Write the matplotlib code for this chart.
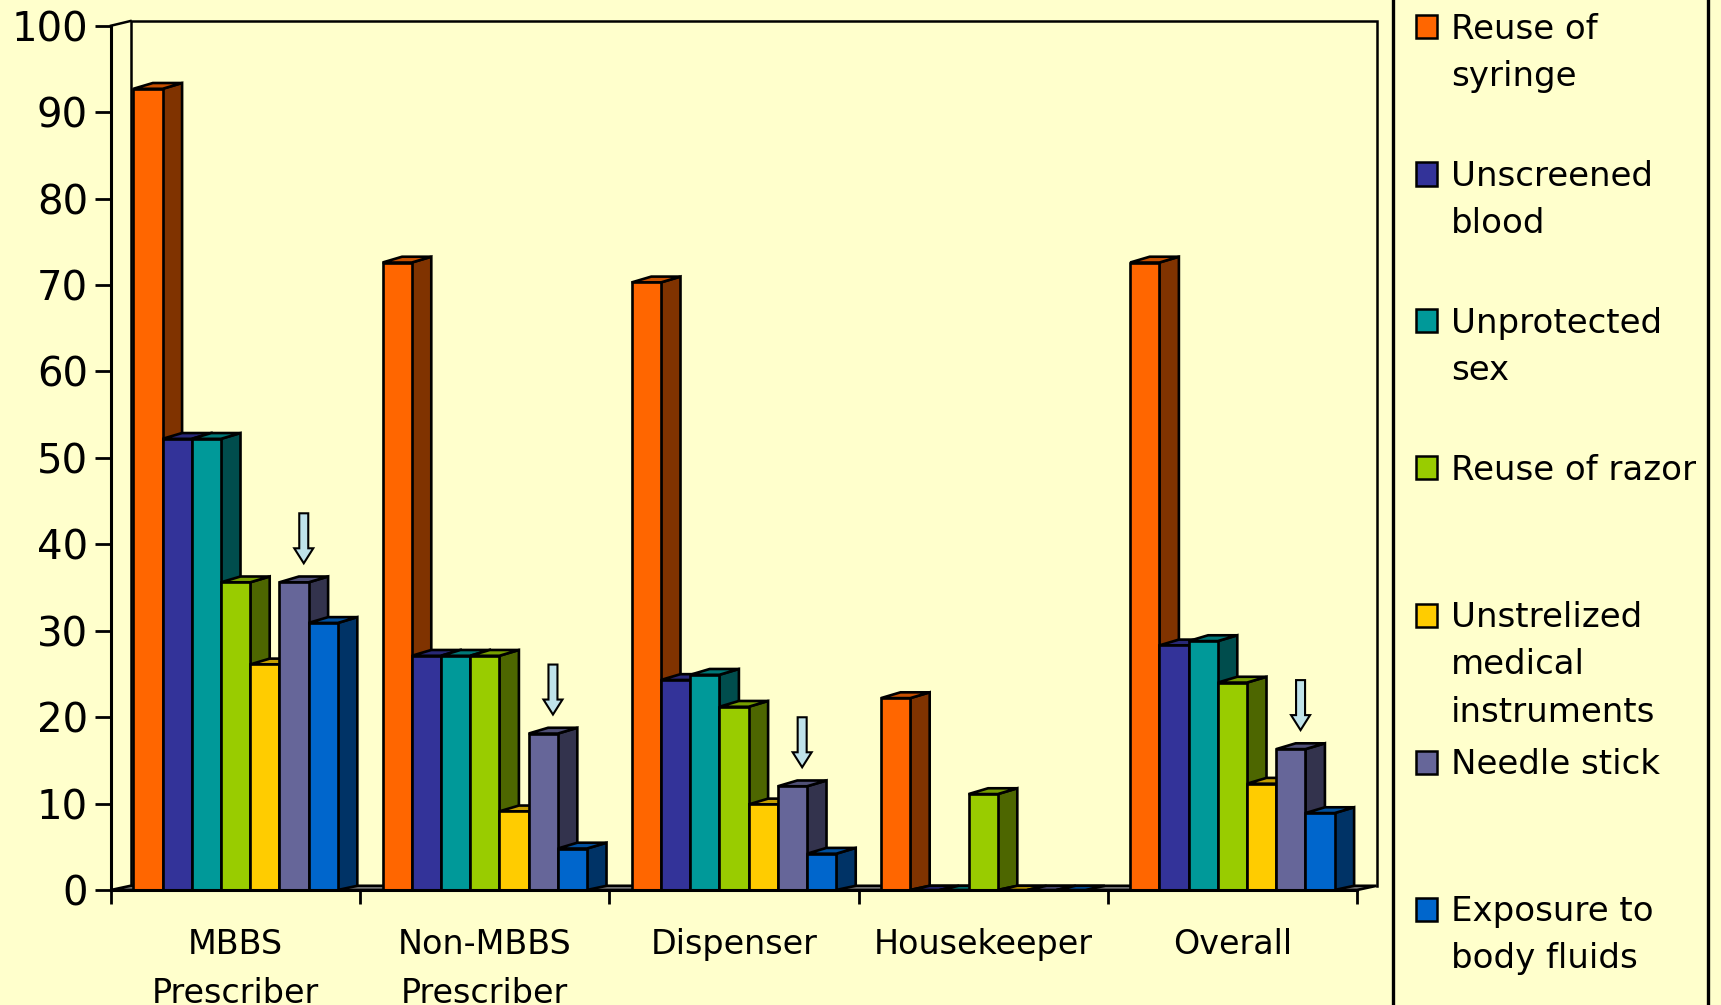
import matplotlib
matplotlib.use("Agg")
import matplotlib.pyplot as plt
from matplotlib.patches import Polygon, Rectangle
from matplotlib.colors import to_rgb

# ---- data -------------------------------------------------------------
categories = ["MBBS\nPrescriber", "Non-MBBS\nPrescriber", "Dispenser",
              "Housekeeper", "Overall"]
series_names = ["Reuse of\nsyringe", "Unscreened\nblood", "Unprotected\nsex",
                "Reuse of razor", "Unstrelized\nmedical\ninstruments",
                "Needle stick", "Exposure to\nbody fluids"]
reuse_syringe = [92.7, 72.6, 70.3, 22.2, 72.6]
unscreened_blood = [52.2, 27.1, 24.3, 0, 28.3]
unprotected_sex = [52.2, 27.1, 24.9, 0, 28.8]
reuse_razor = [35.6, 27.1, 21.2, 11.1, 24.0]
unsterilized_instruments = [26.1, 9.1, 9.9, 0, 12.3]
needle_stick = [35.6, 18.1, 12.0, 0, 16.3]
body_fluids = [30.9, 4.8, 4.2, 0, 8.9]
y_ticks = [0, 10, 20, 30, 40, 50, 60, 70, 80, 90, 100]
highlight_series = 5          # needle stick gets an arrow in every non-empty group

series_values = [reuse_syringe, unscreened_blood, unprotected_sex, reuse_razor,
                 unsterilized_instruments, needle_stick, body_fluids]
face_colors = ["#FF6600", "#333399", "#009999", "#99CC00", "#FFCC00",
               "#666699", "#0066CC"]

BG = "#FFFFCC"
W, H, DPI = 1721, 1005, 100


def shade(c, f):
    r, g, b = to_rgb(c)
    return (r * f, g * f, b * f)


fig = plt.figure(figsize=(W / DPI, H / DPI), dpi=DPI, facecolor=BG)

# plot box in pixels (front plane)
left_px, right_px, top_px, bottom_px = 111, 1357, 25.7, 890
ax = fig.add_axes([left_px / W, (H - bottom_px) / H,
                   (right_px - left_px) / W, (bottom_px - top_px) / H])
ax.set_facecolor("none")
n_groups = len(categories)
ax.set_xlim(0, n_groups)
ax.set_ylim(0, 100)

px_x = (right_px - left_px) / n_groups      # pixels per group
px_y = (bottom_px - top_px) / 100.0          # pixels per value unit

# depth offset of the 3-D look
dx = 19.5 / px_x
dy_bar = 5.8 / px_y
dy_floor = 4.2 / px_y
dy_wall = 4.7 / px_y

LW = 1.9
EC = "black"

# back wall and side wall outline
wall_top = 100 + dy_wall
ax.plot([dx, dx, n_groups + dx, n_groups + dx],
        [dy_floor, wall_top, wall_top, dy_floor],
        color=EC, lw=1.8, clip_on=False, zorder=1, solid_joinstyle="miter")
ax.plot([0, dx], [100, wall_top], color=EC, lw=1.8, clip_on=False, zorder=1)

# floor slab
floor = Polygon([(0, 0), (n_groups, 0), (n_groups + dx, dy_floor), (dx, dy_floor)],
                closed=True, facecolor="#808080", edgecolor=EC, lw=LW,
                clip_on=False, zorder=2)
ax.add_patch(floor)

# bars
n_series = len(series_values)
bar_w = 0.1172
pad = (1 - n_series * bar_w) / 2
for g in range(n_groups):
    for s in range(n_series):
        v = series_values[s][g]
        c = face_colors[s]
        x0 = g + pad + s * bar_w
        x1 = x0 + bar_w
        if v > 0:
            ax.add_patch(Polygon([(x1, 0), (x1 + dx, dy_floor),
                                  (x1 + dx, v + dy_bar), (x1, v)],
                                 closed=True, facecolor=shade(c, 0.5),
                                 edgecolor=EC, lw=LW, zorder=3, clip_on=False,
                                 joinstyle="miter"))
            ax.add_patch(Polygon([(x0, v), (x1, v), (x1 + dx, v + dy_bar),
                                  (x0 + dx, v + dy_bar)],
                                 closed=True, facecolor=shade(c, 0.78),
                                 edgecolor=EC, lw=LW, zorder=3, clip_on=False,
                                 joinstyle="miter"))
            ax.add_patch(Rectangle((x0, 0), bar_w, v, facecolor=c,
                                   edgecolor=EC, lw=LW, zorder=3, clip_on=False,
                                   joinstyle="miter"))
        else:
            ax.add_patch(Polygon([(x0, 0), (x1, 0), (x1 + dx, dy_floor),
                                  (x0 + dx, dy_floor)],
                                 closed=True, facecolor=shade(c, 0.78),
                                 edgecolor=EC, lw=LW, zorder=3, clip_on=False))

# down arrows above the highlighted series
arrow_len = 50 / px_y
head_len = 15 / px_y
shaft_hw = 4.5 / px_x
head_hw = 9.5 / px_x
gap = 2.2
for g in range(n_groups):
    v = series_values[highlight_series][g]
    if v <= 0:
        continue
    xc = g + pad + highlight_series * bar_w + bar_w / 2 + dx / 2
    tip = v + gap
    pts = [(xc, tip), (xc - head_hw, tip + head_len), (xc - shaft_hw, tip + head_len),
           (xc - shaft_hw, tip + arrow_len), (xc + shaft_hw, tip + arrow_len),
           (xc + shaft_hw, tip + head_len), (xc + head_hw, tip + head_len)]
    ax.add_patch(Polygon(pts, closed=True, facecolor="#BFE3EA", edgecolor=EC,
                         lw=1.5, zorder=5, clip_on=False))

# axes styling
for side in ("top", "right"):
    ax.spines[side].set_visible(False)
for side in ("left", "bottom"):
    ax.spines[side].set_linewidth(2.2)
    ax.spines[side].set_zorder(4)
ax.set_yticks(y_ticks)
ax.set_yticklabels([str(t) for t in y_ticks], fontsize=29, family="DejaVu Sans")
ax.tick_params(axis="y", direction="out", length=11.5, width=2.0, pad=5)
ax.set_xticks(range(n_groups + 1))
ax.set_xticklabels([])
ax.tick_params(axis="x", direction="out", length=10, width=2.0)

for g, name in enumerate(categories):
    ax.text(g + 0.5, -4.4, name, ha="center", va="top", fontsize=24,
            linespacing=1.62, family="DejaVu Sans", clip_on=False)

# legend panel
leg_left, leg_right = 1393, 1708
fig.patches.append(Rectangle((leg_left / W, -0.05), (leg_right - leg_left) / W, 1.1,
                             transform=fig.transFigure, facecolor=BG,
                             edgecolor=EC, lw=2.4, zorder=0))
entry_step = 147
first_center = 27
sw_w, sw_h = 21, 23
for i, (name, c) in enumerate(zip(series_names, face_colors)):
    yc = first_center + i * entry_step
    fig.patches.append(Rectangle((1416 / W, (H - yc - sw_h / 2) / H), sw_w / W, sw_h / H,
                                 transform=fig.transFigure, facecolor=c,
                                 edgecolor=EC, lw=1.8, zorder=2))
    fig.text(1451 / W, (H - yc + 14) / H, name, ha="left", va="top",
             fontsize=24.5, linespacing=1.55, family="DejaVu Sans")

fig.savefig("out.png", dpi=DPI, facecolor=BG)
